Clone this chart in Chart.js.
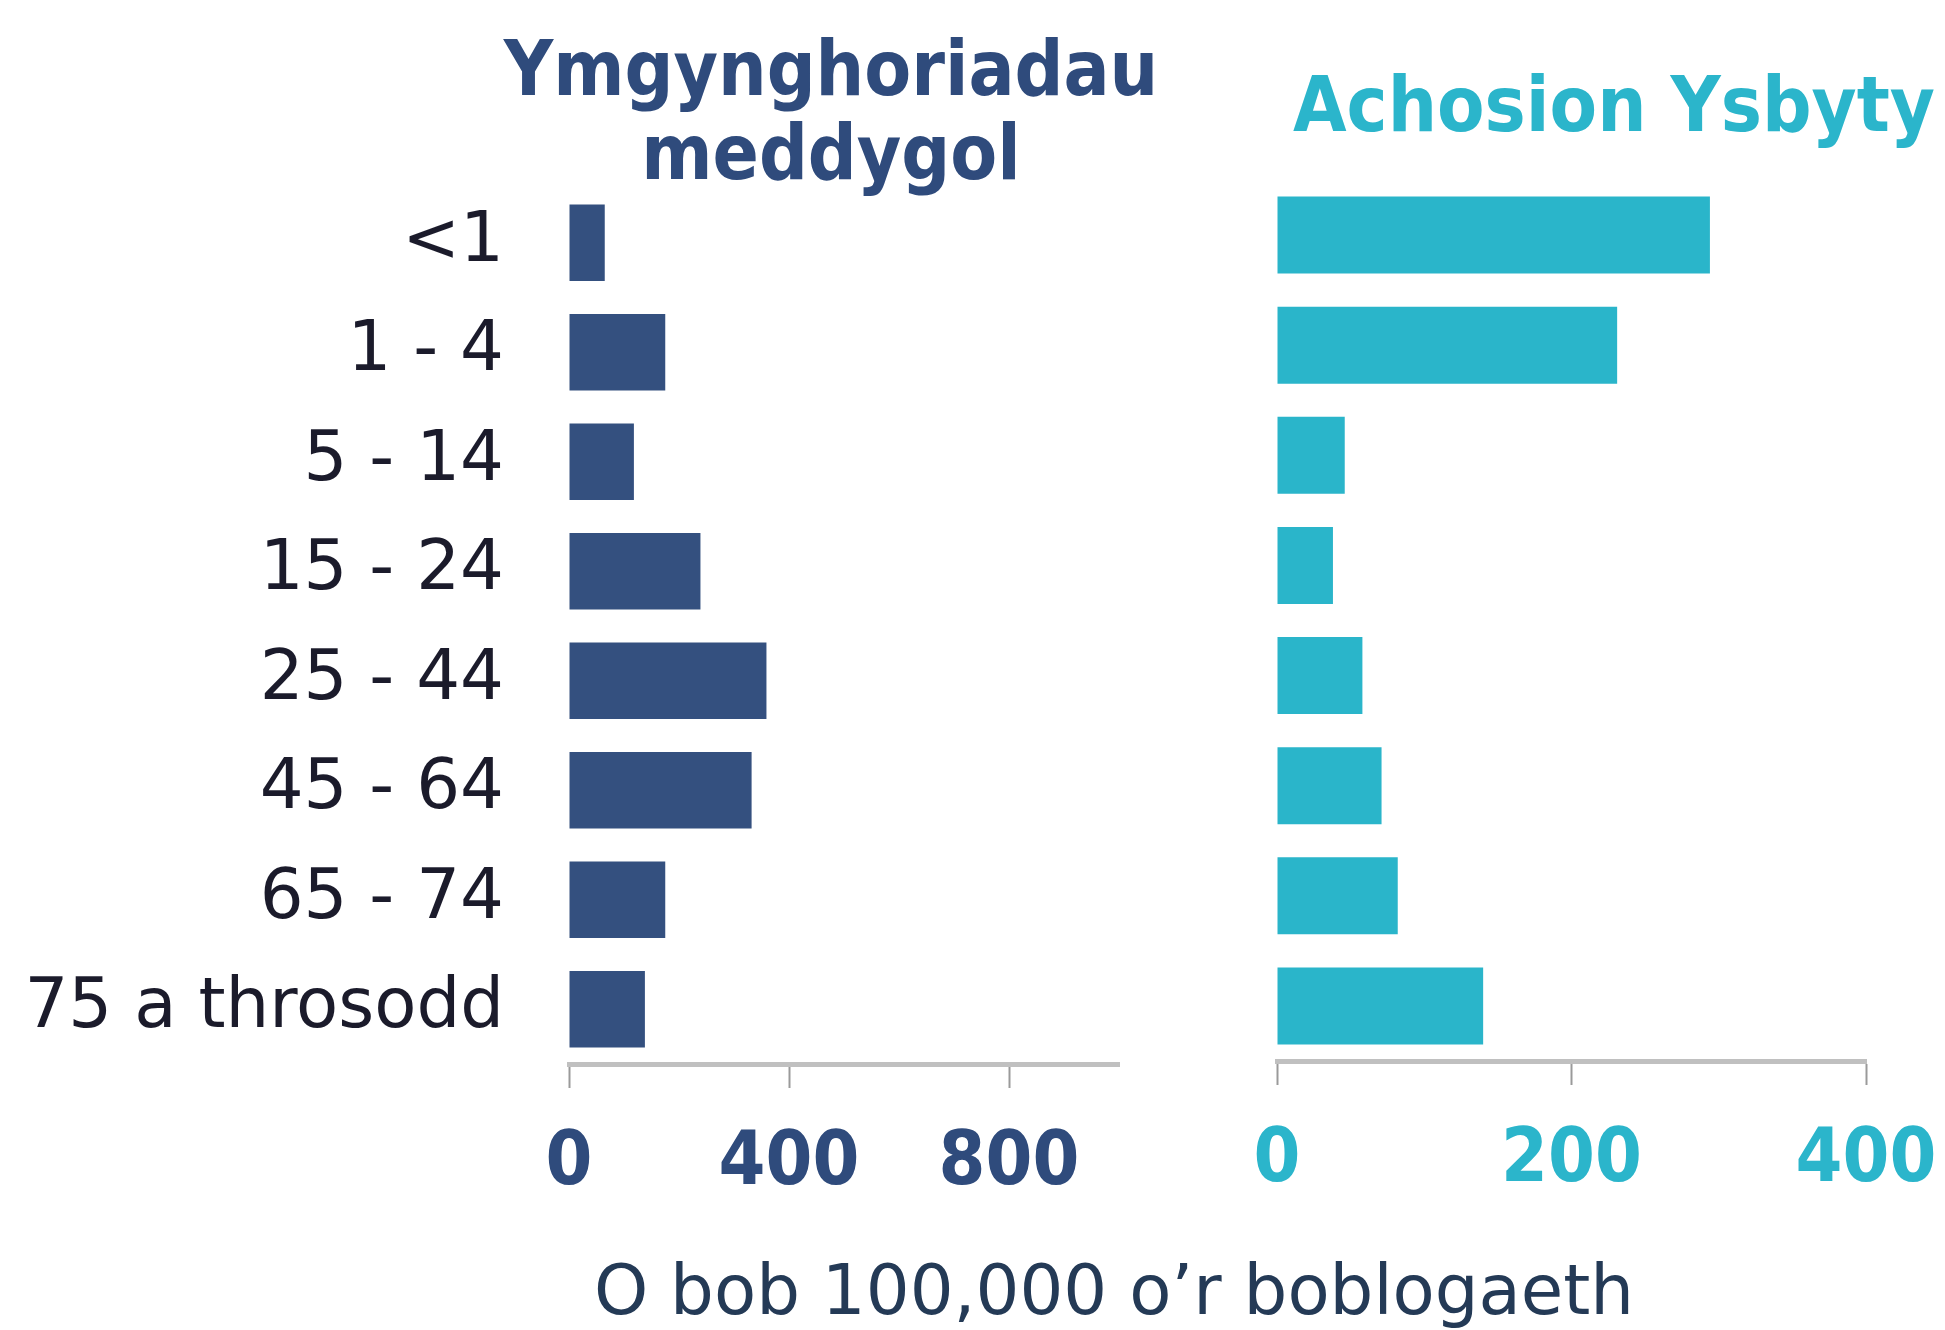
<!DOCTYPE html>
<html>
<head>
<meta charset="utf-8">
<script src="https://cdn.jsdelivr.net/npm/chart.js@4.4.1/dist/chart.umd.min.js"></script>
<style>
  body { margin: 0; background: #fff; }
  #wrap { position: relative; width: 1945px; height: 1330px; overflow: hidden; }
  canvas { position: absolute; top: 0; }
  .ttl { position: absolute; font-family: 'DejaVu Sans Condensed', 'DejaVu Sans', sans-serif; font-weight: bold; font-stretch: condensed; text-align: center; white-space: nowrap; }
</style>
</head>
<body>
<div id="wrap">
  <canvas id="consult_chart" width="1200" height="1330" style="left:0"></canvas>
  <canvas id="hospital_chart" width="745" height="1330" style="left:1200px"></canvas>
  <div class="ttl" style="left:431px; width:800px; top:27px; font-size:76px; line-height:84px; color:#2f4b7c;">Ymgynghoriadau<br>meddygol</div>
  <div class="ttl" style="left:1264px; width:700px; top:62px; font-size:77px; line-height:86px; color:#2bb5cb;">Achosion Ysbyty</div>
  <div style="position:absolute; left:514px; width:1200px; top:1249px; font-family:'DejaVu Sans', sans-serif; font-size:69px; line-height:82px; text-align:center; color:#243a56; white-space:nowrap;">O bob 100,000 o’r boblogaeth</div>
</div>
<script>
const age_groups = ['<1', '1 - 4', '5 - 14', '15 - 24', '25 - 44', '45 - 64', '65 - 74', '75 a throsodd'];
const consultations = [65, 175, 118, 239, 359, 332, 175, 138];
const hospital_cases = [294, 231, 46, 38, 58, 71, 82, 140];
const consult_ticks_max = 1000;
const hospital_ticks_max = 400;

const navy = '#34507f';
const teal = '#2ab5ca';
const tick_font = { family: "'DejaVu Sans Condensed', 'DejaVu Sans'", weight: 'bold', size: 75 };

// let the outer tick labels hang past the plot edge instead of shrinking it
function no_label_padding(scale) {
    scale.height = 140;
    scale.paddingLeft = 0;
    scale.paddingRight = 0;
}

/////

const consult_ctx = document.getElementById("consult_chart").getContext("2d");

const consult_config = {
    type: 'bar',
    data: {
        labels: age_groups,
        datasets: [
            {
                label: "Ymgynghoriadau meddygol",
                data: consultations,
                backgroundColor: navy,
                categoryPercentage: 1,
                barPercentage: 0.7,
            }
        ]
    },
    options: {
        indexAxis: 'y',
        responsive: false,
        animation: false,
        layout: { padding: { left: 0, right: 81, top: 188, bottom: 126 } },
        plugins: {
            legend: { display: false },
            tooltip: { enabled: false }
        },
        scales: {
            y: {
                grid: { display: false, drawTicks: false },
                border: { display: false },
                ticks: {
                    padding: 65,
                    color: '#1b1b2b',
                    font: { family: "'DejaVu Sans'", size: 69 }
                },
                afterFit: (scale) => { scale.width = 569; }
            },
            x: {
                min: 0,
                max: consult_ticks_max,
                grid: { drawOnChartArea: false, drawTicks: true, tickLength: 24, tickColor: '#9a9a9a', tickWidth: 2 },
                border: { display: true, color: '#c0c0c0', width: 5 },
                ticks: {
                    stepSize: 400,
                    includeBounds: false,
                    padding: 32,
                    color: '#2f4b7c',
                    maxRotation: 0,
                    font: tick_font
                },
                afterFit: no_label_padding
            }
        }
    },
};

const consult_bar_chart = new Chart(consult_ctx, consult_config);

/////

const hospital_ctx = document.getElementById("hospital_chart").getContext("2d");

const hospital_config = {
    type: 'bar',
    data: {
        labels: age_groups,
        datasets: [
            {
                label: "Achosion Ysbyty",
                data: hospital_cases,
                backgroundColor: teal,
                categoryPercentage: 1,
                barPercentage: 0.7,
            }
        ]
    },
    options: {
        indexAxis: 'y',
        responsive: false,
        animation: false,
        layout: { padding: { left: 77, right: 79, top: 180, bottom: 129 } },
        plugins: {
            legend: { display: false },
            tooltip: { enabled: false }
        },
        scales: {
            y: {
                display: false
            },
            x: {
                min: 0,
                max: hospital_ticks_max,
                grid: { drawOnChartArea: false, drawTicks: true, tickLength: 24, tickColor: '#9a9a9a', tickWidth: 2 },
                border: { display: true, color: '#c0c0c0', width: 5 },
                ticks: {
                    stepSize: 200,
                    padding: 32,
                    color: '#2bb5cb',
                    maxRotation: 0,
                    font: tick_font
                },
                afterFit: no_label_padding
            }
        }
    },
};

const hospital_bar_chart = new Chart(hospital_ctx, hospital_config);
</script>
</body>
</html>
